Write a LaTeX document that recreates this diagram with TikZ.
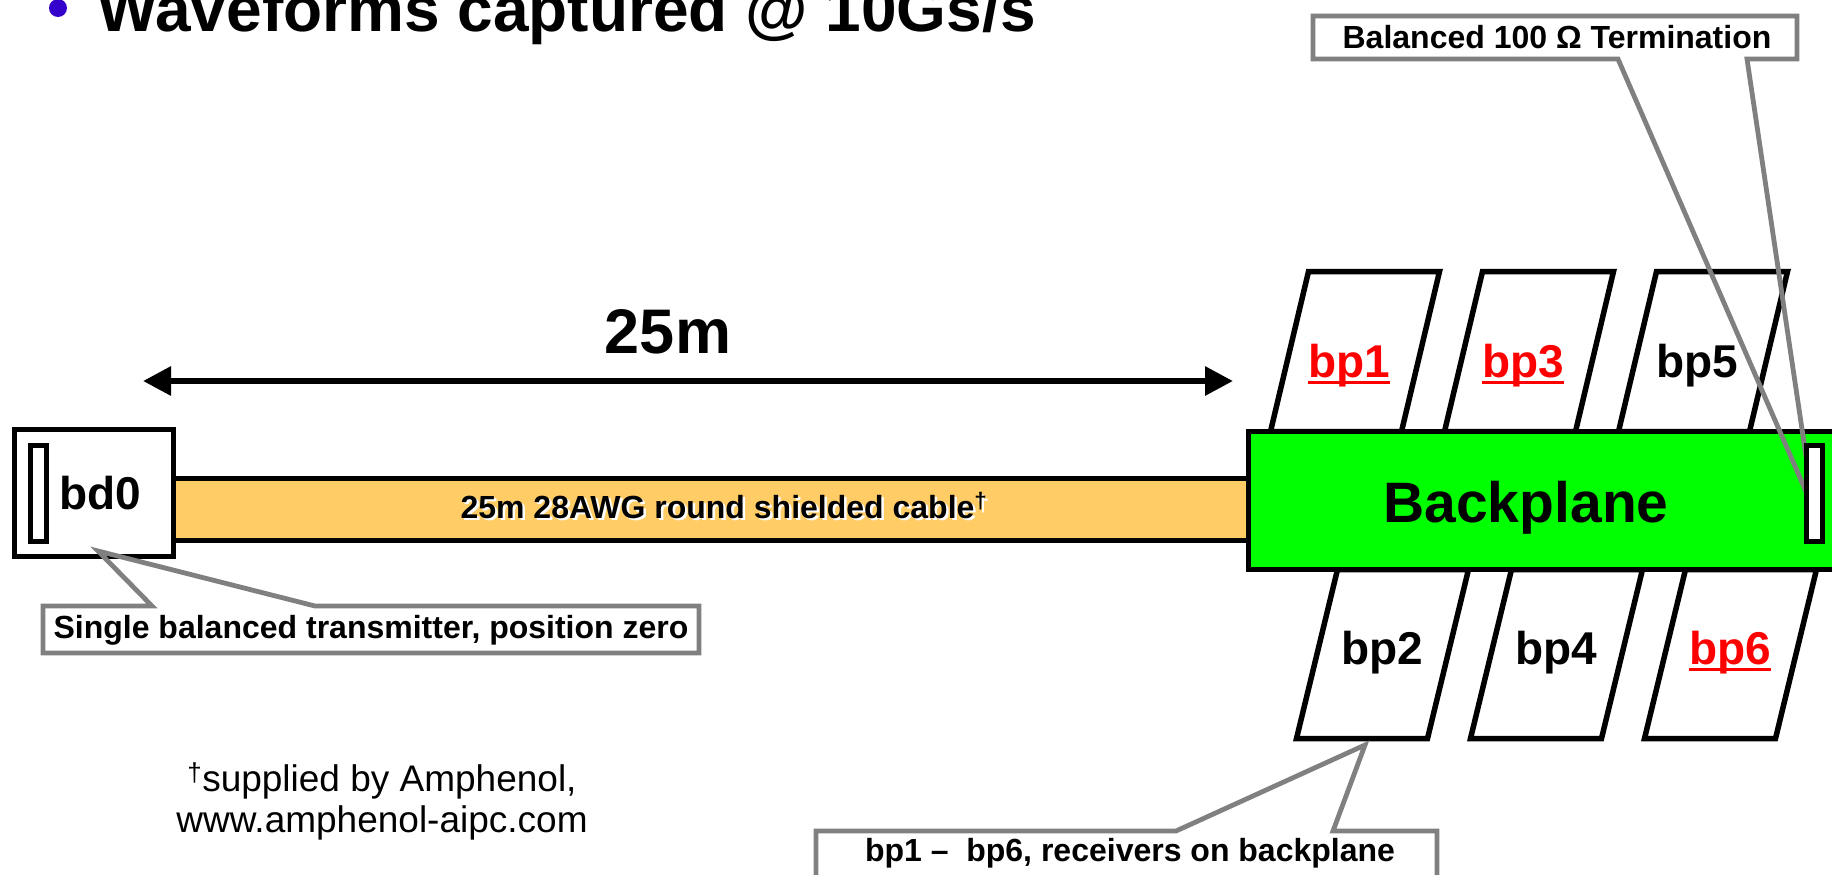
\documentclass[tikz,border=0pt]{standalone}
\usepackage{fontspec}
\setmainfont{Liberation Sans}
\usetikzlibrary{arrows.meta}
\definecolor{bpgreen}{HTML}{00FF00}
\definecolor{cableor}{HTML}{FFCC66}
\definecolor{callgray}{HTML}{808080}
\definecolor{bulletblue}{HTML}{3300CC}
\definecolor{lblred}{HTML}{FF0000}
\begin{document}
\begin{tikzpicture}[x=1pt,y=-1pt,
  blk/.style={draw=black,line width=5.5pt,line join=miter},
  callout/.style={draw=callgray,line width=4.8pt,line join=miter},
  biglbl/.style={inner sep=0pt,anchor=base,font=\fontsize{46}{50}\selectfont\bfseries},
  smalllbl/.style={inner sep=0pt,anchor=base,font=\fontsize{32}{36}\selectfont\bfseries},
  fnote/.style={inner sep=0pt,anchor=base,font=\fontsize{37}{42}\selectfont},
  redul/.style={lblred,line width=3pt}
]
\useasboundingbox (0,0) rectangle (1832,875);
\clip (0,0) rectangle (1832,875);

% title
\node[circle,fill=bulletblue,minimum size=18pt,inner sep=0pt] (bullet) at (58,8) {};
\node[anchor=base west,inner sep=0pt,font=\fontsize{64}{68}\selectfont\bfseries] (title) at (97,32) {Waveforms captured @ 10Gs/s};

% cable
\draw[blk,fill=cableor] (170,478.5) rectangle (1252,540.5);
\node[smalllbl,text=white] (cableshadow) at (726.5,520.5) {25m 28AWG round shielded cable\textsuperscript{†}};
\node[smalllbl] (cable) at (724,518) {25m 28AWG round shielded cable\textsuperscript{†}};

% bd0
\draw[blk,fill=white] (14.5,429.5) rectangle (173.5,556.5);
\draw[blk,fill=white] (30.5,445.5) rectangle (46.5,541.5);
\node[biglbl] (bd0) at (100.5,509) {bd0};

% dimension arrow
\coordinate (aL) at (143,381);
\coordinate (aR) at (1233,381);
\draw[line width=6pt,{Triangle[length=28pt,width=28pt]}-{Triangle[length=28pt,width=28pt]}] (aL) -- (aR);
\node[inner sep=0pt,anchor=base,font=\fontsize{63}{68}\selectfont\bfseries] (len) at (668,353) {25m};

% parallelograms top row
\foreach \i in {0,1,2}{
  \draw[blk,fill=white] ({1308.5+174*\i},271.5) -- ({1439.5+174*\i},271.5) -- ({1401.5+174*\i},431.5) -- ({1270.5+174*\i},431.5) -- cycle;
}
% parallelograms bottom row
\foreach \i in {0,1,2}{
  \draw[blk,fill=white] ({1337.5+174*\i},569.5) -- ({1468.5+174*\i},569.5) -- ({1427.5+174*\i},738.5) -- ({1296.5+174*\i},738.5) -- cycle;
}

% backplane
\draw[blk,fill=bpgreen] (1248.5,431.5) rectangle (1860,569.5);
\node[inner sep=0pt,anchor=base,font=\fontsize{57}{62}\selectfont\bfseries] (bp) at (1526,522) {Backplane};

% labels
\node[biglbl,text=lblred] (bp1) at (1349,377) {bp1};
\draw[redul] ([yshift=-5pt]bp1.base west) -- ([yshift=-5pt]bp1.base east);
\node[biglbl,text=lblred] (bp3) at (1523,377) {bp3};
\draw[redul] ([yshift=-5pt]bp3.base west) -- ([yshift=-5pt]bp3.base east);
\node[biglbl] (bp5) at (1697,377) {bp5};
\node[biglbl] (bp2) at (1382,664) {bp2};
\node[biglbl] (bp4) at (1556,664) {bp4};
\node[biglbl,text=lblred] (bp6) at (1730,664) {bp6};
\draw[redul] ([yshift=-5pt]bp6.base west) -- ([yshift=-5pt]bp6.base east);

% callout: termination
\coordinate (tTip) at (1814,510);
\draw[callout] (1313,16) -- (1797,16) -- (1797,59) -- (1747,59) -- (tTip) -- (1618,59) -- (1313,59) -- cycle;
\node[smalllbl] (term) at (1557,49) {Balanced 100 Ω Termination};
\draw[blk,fill=white] (1806.5,445.5) rectangle (1822.5,541.5);

% callout: transmitter
\coordinate (sTip) at (98,551);
\draw[callout] (43,606) -- (152,606) -- (sTip) -- (315,606) -- (699,606) -- (699,653) -- (43,653) -- cycle;
\node[smalllbl] (single) at (371,638) {Single balanced transmitter, position zero};

% callout: receivers
\coordinate (rTip) at (1365,745);
\draw[callout] (816,900) -- (816,831) -- (1176,831) -- (rTip) -- (1333,831) -- (1437,831) -- (1437,900);
\node[smalllbl] (recv) at (1130,861) {bp1 –\ \ bp6, receivers on backplane};

% footnote
\node[fnote] (fn1) at (382,791) {\textsuperscript{†}supplied by Amphenol,};
\node[fnote] (fn2) at (382,832) {www.amphenol-aipc.com};
\end{tikzpicture}
\end{document}
